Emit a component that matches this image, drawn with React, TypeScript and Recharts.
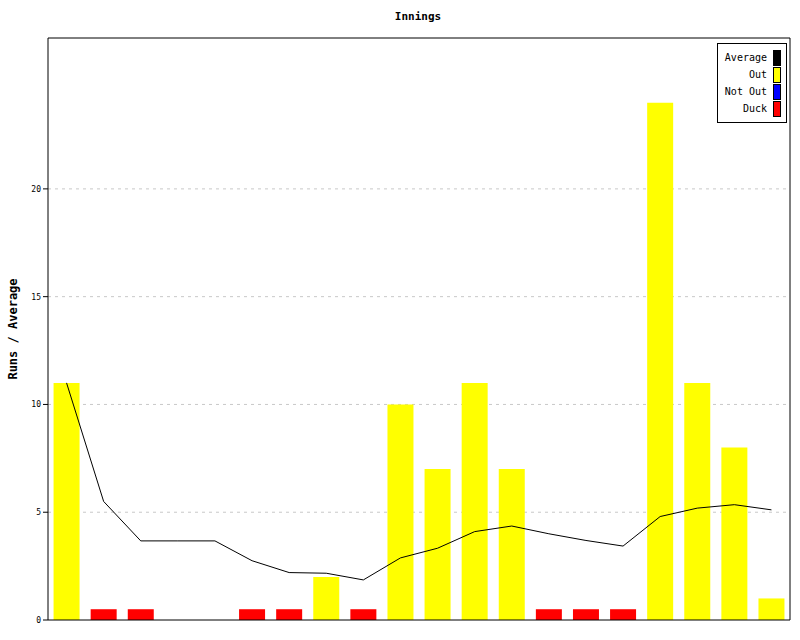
import React from "react";
import {
  ComposedChart, Bar, Line, XAxis, YAxis, CartesianGrid, Legend, Label,
} from "recharts";

const FONT = "'DejaVu Sans Mono', monospace";

const innings = ["1", "2", "3", "4", "5", "6", "7", "8", "9", "10",
  "11", "12", "13", "14", "15", "16", "17", "18", "19", "20"];
const outRuns = [11, null, null, null, null, null, null, 2, null, 10,
  7, 11, 7, null, null, null, 24, 11, 8, 1];
const notOutRuns = [null, null, null, null, null, null, null, null, null, null,
  null, null, null, null, null, null, null, null, null, null];
const duckRuns = [null, 0.5, 0.5, null, null, 0.5, 0.5, null, 0.5, null,
  null, null, null, 0.5, 0.5, 0.5, null, null, null, null];
const average = [11, 5.5, 3.67, 3.67, 3.67, 2.75, 2.2, 2.17, 1.86, 2.88,
  3.33, 4.1, 4.36, 4.0, 3.69, 3.43, 4.8, 5.19, 5.35, 5.11];
const yTicks = [0, 5, 10, 15, 20];
const gridValues = [5, 10, 15, 20];

const legendItems = [
  { label: "Average", color: "#000000" },
  { label: "Out", color: "#ffff00" },
  { label: "Not Out", color: "#0000ff" },
  { label: "Duck", color: "#ff0000" },
];

const data = innings.map((name, i) => ({
  name,
  out: outRuns[i],
  notOut: notOutRuns[i],
  duck: duckRuns[i],
  average: average[i],
}));

function LegendBox() {
  return (
    <div style={{
      border: "1px solid #000", background: "#fff", padding: "5px 5px 5px 5px",
      fontFamily: FONT, fontSize: 10, color: "#000", boxSizing: "border-box", width: 70,
    }}>
      {legendItems.map((it) => (
        <div key={it.label} style={{ display: "flex", justifyContent: "flex-end", alignItems: "center", height: 17 }}>
          <span style={{ marginRight: 6 }}>{it.label}</span>
          <span style={{ display: "inline-block", width: 6, height: 14, background: it.color, border: "1px solid #000" }} />
        </div>
      ))}
    </div>
  );
}

export default function App() {
  return (
    <div style={{ position: "absolute", left: 0, top: 0, width: 800, height: 640, background: "#fff" }}>
      <div style={{
        position: "absolute", top: 10, left: 0, width: 836, textAlign: "center",
        fontFamily: FONT, fontWeight: "bold", fontSize: 11,
      }}>Innings</div>
      <ComposedChart width={800} height={640} data={data}
        margin={{ top: 37, right: 9, left: 0, bottom: 19 }} barCategoryGap="15%">
        <CartesianGrid vertical={false} stroke="#c8c8c8" strokeDasharray="3 4" horizontalValues={gridValues} />
        <XAxis dataKey="name" tick={false} tickLine={false} height={1} stroke="#000" />
        <XAxis xAxisId="top" orientation="top" dataKey="name" tick={false} tickLine={false} height={1} stroke="#000" />
        <YAxis domain={[0, 27]} ticks={yTicks} width={48} stroke="#000" tickSize={5}
          tick={{ fill: "#000", fontSize: 8, fontFamily: FONT }} interval={0}>
          <Label value="Runs / Average" angle={-90} position="insideLeft" offset={13}
            style={{ textAnchor: "middle", fontFamily: FONT, fontWeight: "bold", fontSize: 12, fill: "#000" }} />
        </YAxis>
        <YAxis yAxisId="right" orientation="right" domain={[0, 27]} tick={false} tickLine={false} width={1} stroke="#000" />
        <Legend layout="horizontal" verticalAlign="middle" align="center"
          wrapperStyle={{ top: 43, left: 717, width: 70 }} content={() => <LegendBox />} />
        <Bar dataKey="out" stackId="a" fill="#ffff00" isAnimationActive={false} />
        <Bar dataKey="notOut" stackId="a" fill="#0000ff" isAnimationActive={false} />
        <Bar dataKey="duck" stackId="a" fill="#ff0000" isAnimationActive={false} />
        <Line dataKey="average" type="linear" stroke="#000" strokeWidth={1} dot={false} isAnimationActive={false} />
      </ComposedChart>
    </div>
  );
}
